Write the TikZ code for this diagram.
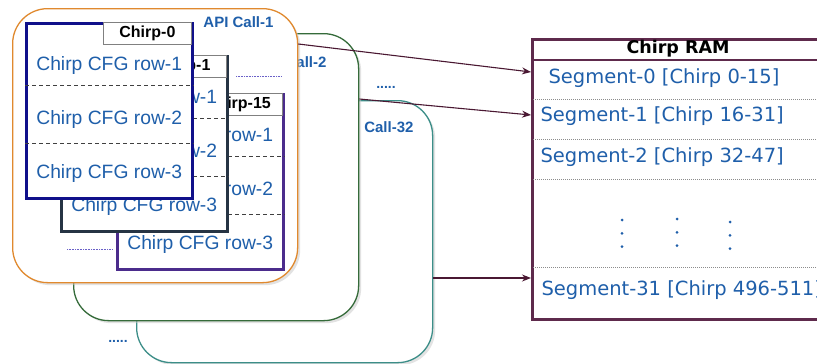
\documentclass[tikz,border=0pt]{standalone}
\usepackage{fontspec}
\setmainfont{Liberation Sans}
\newfontfamily\ramfont{DejaVu Sans}
\usetikzlibrary{shadows,arrows.meta}

\definecolor{txtblue}{HTML}{1F5FAA}
\definecolor{calla}{HTML}{E0892E}
\definecolor{callb}{HTML}{356B3A}
\definecolor{callz}{HTML}{3C8E88}
\definecolor{chirpa}{HTML}{10108A}
\definecolor{chirpb}{HTML}{263444}
\definecolor{chirpz}{HTML}{4B2C8C}
\definecolor{ramline}{HTML}{5E2A4C}
\definecolor{linkcol}{HTML}{4A1832}
\definecolor{morecol}{HTML}{6A60C8}

\tikzset{
  callbox/.style={draw=#1, line width=1.3pt, fill=white, rounded corners=35pt,
    anchor=north west, inner sep=0pt,
    drop shadow={shadow xshift=2.5pt, shadow yshift=-2.5pt, fill=black!22}},
  calllabel/.style={anchor=east, text=txtblue, font=\fontsize{15}{17}\selectfont\bfseries},
  chirpcard/.style={draw=#1, line width=2.5pt, fill=white, anchor=north west,
    minimum width=166pt, minimum height=175pt, inner sep=0pt,
    drop shadow={shadow xshift=2pt, shadow yshift=-2pt, fill=black!25}},
  cardtitle/.style={draw=black!50, line width=1.2pt, fill=white, anchor=north east,
    minimum width=88pt, minimum height=22pt, inner sep=0pt,
    font=\fontsize{16}{18}\selectfont\bfseries},
  rowtext/.style={text=txtblue, font=\fontsize{19.3}{22}\selectfont},
  rowsep/.style={dash pattern=on 4pt off 3pt, line width=0.9pt, black!75},
  moredots/.style={text=txtblue, font=\fontsize{14}{16}\selectfont\bfseries},
  segtext/.style={anchor=west, text=txtblue, font=\ramfont\fontsize{19.5}{22}\selectfont},
  segsep/.style={dash pattern=on 1pt off 1pt, line width=0.8pt, black!45},
  link/.style={-{Stealth[length=9pt,width=7pt]}, line width=1.1pt, linkcol},
}

\begin{document}
\begin{tikzpicture}[x=1pt,y=-1pt]
\clip (0,0) rectangle (817,364);

% API call boxes, back to front
\node[callbox=callz, minimum width=296pt, minimum height=262pt] (call32) at (136,100) {};
\node[calllabel] (lab32) at (417,127) {API Call-32};
\node[callbox=callb, minimum width=285pt, minimum height=287pt] (call2) at (73,33) {};
\node[calllabel] (lab2) at (330,62) {API Call-2};
\node[callbox=calla, minimum width=285pt, minimum height=274pt] (call1) at (12,8) {};
\node[calllabel] (lab1) at (277,22) {API Call-1};

\node[moredots] (more1) at (386,87) {.....};
\node[moredots] (more2) at (118,341) {.....};

% chirp cards inside call 1
\draw[morecol, dash pattern=on 1pt off 0.6pt, line width=1pt] (236,76) -- (281,76);
\draw[morecol, dash pattern=on 1pt off 0.6pt, line width=1pt] (67,249) -- (113,249);
\foreach \x/\y/\c/\t [count=\i] in {116/93/chirpz/Chirp-15, 60/55/chirpb/Chirp-1, 25/22/chirpa/Chirp-0}{
  \node[chirpcard=\c] (card\i) at (\x,\y) {};
  \node[cardtitle] (title\i) at ([xshift=-1.5pt]card\i.north east) {\t};
  \draw[rowsep] ([yshift=-63pt]card\i.north west) -- ([yshift=-63pt]card\i.north east);
  \draw[rowsep] ([yshift=-121pt]card\i.north west) -- ([yshift=-121pt]card\i.north east);
  \node[rowtext] (row\i a) at ([yshift=-44pt]card\i.north) {Chirp CFG row-1};
  \node[rowtext] (row\i b) at ([yshift=-98pt]card\i.north) {Chirp CFG row-2};
  \node[rowtext] (row\i c) at ([yshift=-152pt]card\i.north) {Chirp CFG row-3};
}

% chirp RAM
\node[draw=ramline, line width=2.5pt, fill=white, anchor=north west, inner sep=0pt,
  minimum width=300pt, minimum height=280pt] (ram) at (531,38) {};
\draw[ramline, line width=1.3pt] ([yshift=-22pt]ram.north west) -- ([yshift=-22pt]ram.north east);
\node[font=\ramfont\fontsize{17.5}{20}\selectfont\bfseries] (ramtitle) at (678,49) {Chirp RAM};
\foreach \d in {61,101,141,229}
  \draw[segsep] ([xshift=2pt,yshift=-\d pt]ram.north west) -- ([yshift=-\d pt]ram.north east);
\node[segtext] (seg0) at (545,78) {Segment-0 [Chirp 0-15]};
\node[segtext] (seg1) at (537,116) {Segment-1 [Chirp 16-31]};
\node[segtext] (seg2) at (537,157) {Segment-2 [Chirp 32-47]};
\node[segtext] (seg31) at (538,290) {Segment-31 [Chirp 496-511]};
\foreach \x/\y in {622/220, 677/219, 730/222}
  \foreach \k in {0,1,2}
    \fill[txtblue] (\x,\y+\k*13.3) circle (1.5pt);

% connectors
\draw[link] ([yshift=-36pt]call1.north east) -- ([yshift=-34pt]ram.north west);
\draw[link] ([yshift=-66pt]call2.north east) -- ([yshift=-77pt]ram.north west);
\draw[link] ([yshift=-178pt]call32.north east) -- ([yshift=-240pt]ram.north west);
\end{tikzpicture}
\end{document}
